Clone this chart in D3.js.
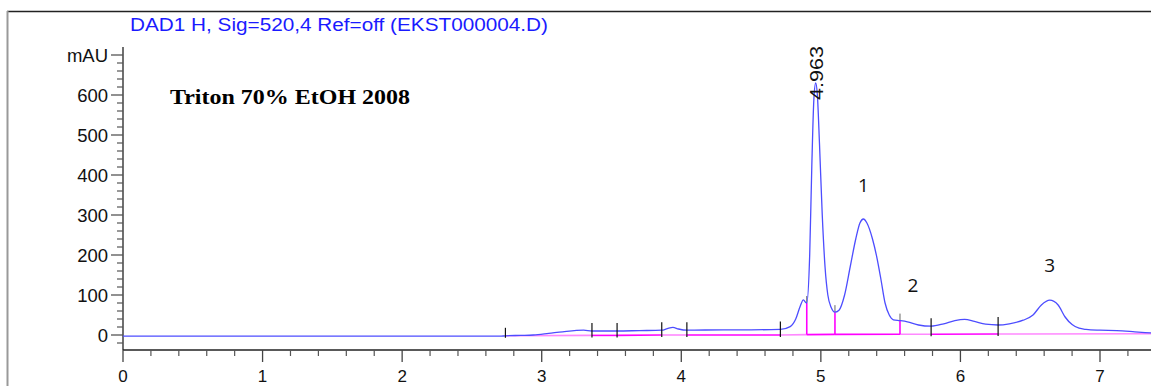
<!DOCTYPE html>
<html>
<head>
<meta charset="utf-8">
<script src="https://cdn.jsdelivr.net/npm/d3@7"></script>
<style>
  html, body { margin: 0; padding: 0; background: #fff; }
  svg { display: block; }
</style>
</head>
<body>
<svg id="chart" width="1151" height="386"></svg>
<script>
// ---- data ----
const signalTimes = [0, 2.7, 2.74, 2.85, 2.94, 3.05, 3.15, 3.3, 3.36, 3.45, 3.54, 3.7, 3.86, 3.9, 3.94, 3.98, 4.04, 4.3, 4.5, 4.71, 4.78, 4.82, 4.85, 4.875, 4.89, 4.899,
  4.92, 4.935, 4.95, 4.963, 4.975, 4.99, 5.01, 5.03, 5.05, 5.075, 5.10, 5.13, 5.17, 5.21, 5.25, 5.28, 5.305, 5.33, 5.37, 5.40, 5.43, 5.46, 5.49, 5.52,
  5.567, 5.62, 5.70, 5.79, 5.88, 5.96, 6.03, 6.10, 6.18, 6.27, 6.35, 6.45, 6.52, 6.58, 6.64, 6.70, 6.75, 6.80, 6.85, 6.90, 7.0, 7.12, 7.25, 7.37];
const signalValues = [-3, -3, -2, -1, 0, 4, 8, 12, 10, 10, 10, 11, 12, 16, 19, 15, 12, 13, 13, 14, 21, 40, 70, 88, 82, 80,
  200, 420, 590, 630, 600, 480, 300, 170, 100, 68, 57, 62, 100, 170, 240, 280, 290, 280, 240, 196, 140, 80, 50, 38,
  36, 33, 25, 22, 28, 36, 39, 34, 27, 25, 28, 37, 50, 75, 87, 75, 45, 26, 17, 14, 12, 11, 8, 5];
const baselineTimes = [2.74, 3.36, 3.54, 3.86, 4.04, 4.71, 4.899, 5.101, 5.567, 5.79, 6.27, 7.37];
const baselineValues = [-2, -1, -1, 0, 0, 0, 1, 1.5, 2, 2, 2.5, 3];
const baselineShade = ["light", "dark", "dark", "light", "dark", "light", "dark", "dark", "light", "dark", "light"];
const dropTimes = [4.899, 5.101, 5.567];
const markerTimes = [2.74, 3.36, 3.54, 3.86, 4.04, 4.71, 5.79, 6.27];
const xTicks = [0, 1, 2, 3, 4, 5, 6, 7];
const yTicks = [0, 100, 200, 300, 400, 500, 600];
const peakLabels = [{ t: 4.963, text: "4.963" }];
const annotations = [{ t: 5.305, v: 375, text: "1" }, { t: 5.66, v: 125, text: "2" }, { t: 6.64, v: 175, text: "3" }];
const titleText = "DAD1 H, Sig=520,4 Ref=off (EKST000004.D)";
const sampleText = "Triton 70% EtOH 2008";
const yUnit = "mAU";

// ---- layout ----
const svg = d3.select("#chart");
const x = d3.scaleLinear().domain([0, 7]).range([123, 1100]);
const y = d3.scaleLinear().domain([0, 600]).range([335, 95]);
const xMax = x.invert(1151);
const yBottom = 350, yTopPx = 47;
const sans = "Liberation Sans, Arial, sans-serif";

// frame
svg.append("line").attr("x1", 7).attr("x2", 1151).attr("y1", 11.5).attr("y2", 11.5)
  .attr("stroke", "#222").attr("stroke-width", 1.5);
svg.append("line").attr("x1", 7.5).attr("x2", 7.5).attr("y1", 11).attr("y2", 386)
  .attr("stroke", "#999").attr("stroke-width", 2);

// title
svg.append("text").attr("x", 130).attr("y", 31).text(titleText)
  .attr("font-family", sans).attr("font-size", 17.5)
  .attr("fill", "#1a1aff").attr("textLength", 418).attr("lengthAdjust", "spacingAndGlyphs");

// sample text
svg.append("text").attr("x", 170).attr("y", 104).text(sampleText)
  .attr("font-family", "Liberation Serif, Times New Roman, serif").attr("font-weight", "bold")
  .attr("font-size", 21).attr("fill", "#000").attr("textLength", 240).attr("lengthAdjust", "spacingAndGlyphs");

// axes
const gx = svg.append("g");
gx.append("line").attr("x1", 123).attr("x2", 1151).attr("y1", yBottom).attr("y2", yBottom).attr("stroke", "#222").attr("stroke-width", 1.3);
const minorX = d3.range(0, xMax, 0.2).filter(v => Math.abs(v - Math.round(v)) > 1e-6);
gx.selectAll(".mx").data(minorX).join("line")
  .attr("x1", d => x(d)).attr("x2", d => x(d)).attr("y1", yBottom).attr("y2", yBottom + 6)
  .attr("stroke", "#555").attr("stroke-width", 1.2);
gx.selectAll(".Mx").data(xTicks).join("line")
  .attr("x1", d => x(d)).attr("x2", d => x(d)).attr("y1", yBottom).attr("y2", yBottom + 12)
  .attr("stroke", "#444").attr("stroke-width", 1.3);
gx.selectAll("text").data(xTicks).join("text")
  .attr("x", d => x(d)).attr("y", 382).attr("text-anchor", "middle").text(d => d)
  .attr("font-family", sans).attr("font-size", 17).attr("fill", "#111");

const gy = svg.append("g");
gy.append("line").attr("x1", 123).attr("x2", 123).attr("y1", yTopPx).attr("y2", yBottom).attr("stroke", "#222").attr("stroke-width", 1.3);
const minorY = d3.range(-20, 720, 20).filter(v => v % 100 !== 0);
gy.selectAll(".my").data(minorY).join("line")
  .attr("x1", 117).attr("x2", 123).attr("y1", d => y(d)).attr("y2", d => y(d))
  .attr("stroke", "#555").attr("stroke-width", 1.2);
gy.selectAll(".My").data(yTicks.concat([700])).join("line")
  .attr("x1", 111).attr("x2", 123).attr("y1", d => y(d)).attr("y2", d => y(d))
  .attr("stroke", "#555").attr("stroke-width", 1.3);
gy.selectAll(".yl").data(yTicks).join("text")
  .attr("x", 108).attr("y", d => y(d) + 6.5).attr("text-anchor", "end").text(d => d)
  .attr("font-family", sans).attr("font-size", 18.5).attr("fill", "#111");
gy.append("text").attr("x", 108).attr("y", y(700) + 6.5).attr("text-anchor", "end").text(yUnit)
  .attr("font-family", sans).attr("font-size", 18.5).attr("fill", "#111");

// integration baseline
const pink = { dark: "#ff00ff", light: "#ff88ff" };
for (let i = 0; i < baselineTimes.length - 1; i++) {
  svg.append("line")
    .attr("x1", x(baselineTimes[i])).attr("y1", y(baselineValues[i]))
    .attr("x2", x(baselineTimes[i + 1])).attr("y2", y(baselineValues[i + 1]))
    .attr("stroke", pink[baselineShade[i]]).attr("stroke-width", 1.6);
}
const sig = d3.zip(signalTimes, signalValues);
const interp = t => {
  const i = d3.bisector(d => d[0]).left(sig, t);
  if (i <= 0) return sig[0][1];
  if (i >= sig.length) return sig[sig.length - 1][1];
  const a = sig[i - 1], b = sig[i];
  return a[1] + (b[1] - a[1]) * (t - a[0]) / (b[0] - a[0]);
};
const baseAt = t => {
  const i = d3.bisector(d => d).left(baselineTimes, t);
  if (i <= 0) return baselineValues[0];
  if (i >= baselineTimes.length) return baselineValues[baselineValues.length - 1];
  const a = baselineTimes[i - 1], b = baselineTimes[i];
  return baselineValues[i - 1] + (baselineValues[i] - baselineValues[i - 1]) * (t - a) / (b - a);
};
svg.selectAll(".drop").data(dropTimes).join("line")
  .attr("x1", d => x(d)).attr("x2", d => x(d))
  .attr("y1", d => y(baseAt(d))).attr("y2", d => y(interp(d)))
  .attr("stroke", "#ff00ff").attr("stroke-width", 1.6);
svg.selectAll(".droptop").data(dropTimes).join("line")
  .attr("x1", d => x(d)).attr("x2", d => x(d))
  .attr("y1", d => y(interp(d)) - 7).attr("y2", d => y(interp(d)))
  .attr("stroke", "#666").attr("stroke-width", 1);

// signal line
const line = d3.line().x(d => x(d[0])).y(d => y(d[1])).curve(d3.curveMonotoneX);
svg.append("path").datum(sig).attr("d", line)
  .attr("fill", "none").attr("stroke", "#4d4dff").attr("stroke-width", 1.3);

// peak start/end markers
svg.selectAll(".mk").data(markerTimes).join("line")
  .attr("x1", d => x(d)).attr("x2", d => x(d))
  .attr("y1", d => y(interp(d)) - 8).attr("y2", d => y(baseAt(d)) + 2)
  .attr("stroke", "#111").attr("stroke-width", 1.2);

// hidden peak label fragment
const clip = svg.append("clipPath").attr("id", "frag");
clip.append("rect").attr("x", x(4.899) - 3).attr("y", 240).attr("width", 5).attr("height", 50);
svg.append("text").attr("clip-path", "url(#frag)")
  .attr("transform", `translate(${x(4.899) + 6},${y(110)}) rotate(-90)`)
  .text("4.898").attr("font-family", sans).attr("font-size", 17).attr("fill", "#111");

// retention time labels
svg.selectAll(".pl").data(peakLabels).join("text")
  .attr("transform", d => `translate(${x(d.t) + 7},100) rotate(-90)`)
  .text(d => d.text).attr("font-family", sans).attr("font-size", 18).attr("fill", "#111")
  .attr("textLength", 54).attr("lengthAdjust", "spacingAndGlyphs");

// annotations
svg.selectAll(".an").data(annotations).join("text")
  .attr("x", d => x(d.t)).attr("y", d => y(d.v) + 7).attr("text-anchor", "middle")
  .text(d => d.text).attr("font-family", "Open Sans, Liberation Sans, sans-serif").attr("font-size", 19).attr("fill", "#111");
</script>
</body>
</html>
